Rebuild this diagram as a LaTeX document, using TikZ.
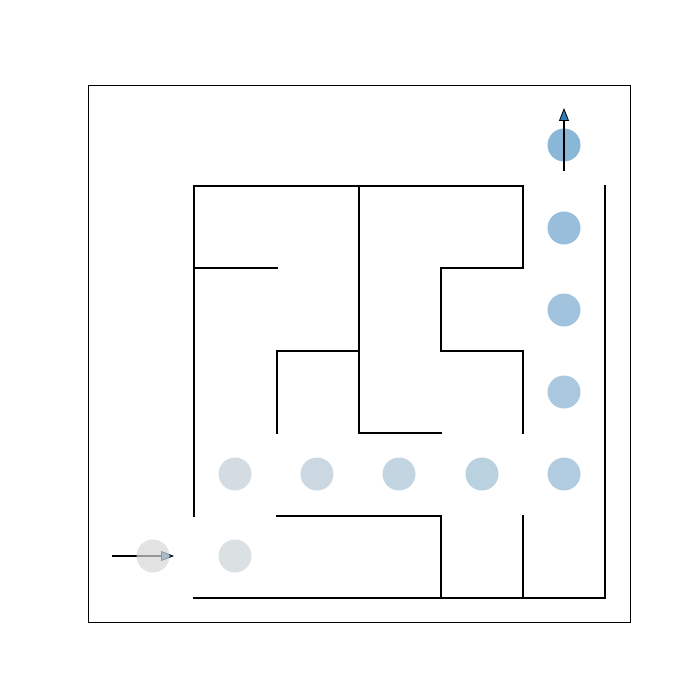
\documentclass[tikz,border=0pt]{standalone}
\usetikzlibrary{arrows.meta}
\definecolor{arrowblue}{HTML}{2F7DB8}
\definecolor{d1}{HTML}{D7D7D7}
\definecolor{d2}{HTML}{DBE0E3}
\definecolor{d3}{HTML}{D4DCE3}
\definecolor{d4}{HTML}{CBD8E1}
\definecolor{d5}{HTML}{C3D5E1}
\definecolor{d6}{HTML}{BAD1E0}
\definecolor{d7}{HTML}{B1CCE0}
\definecolor{d8}{HTML}{AAC8DF}
\definecolor{d9}{HTML}{A1C3DE}
\definecolor{d10}{HTML}{98BEDC}
\definecolor{d11}{HTML}{8AB6D8}
\tikzset{
  wall/.style={line width=1.5pt, line cap=rect},
  frame/.style={line width=0.8pt},
  dot/.style={circle, minimum size=33pt, inner sep=0pt, draw=none},
  movearrow/.style={line width=1.4pt, -{Triangle[length=13pt,width=10pt,fill=arrowblue,line width=0.8pt]}},
}
\begin{document}
\begin{tikzpicture}[x=1pt,y=-1pt]
\useasboundingbox (0,0) rectangle (700,700);
\draw[frame] (88,85) rectangle (630,622);
% walls
\draw[wall] (194,516) -- (194,186) -- (523,186) -- (523,268) -- (441,268) -- (441,351) -- (523,351) -- (523,433);
\draw[wall] (359,186) -- (359,433) -- (441,433);
\draw[wall] (194,268) -- (277,268);
\draw[wall] (277,433) -- (277,351) -- (359,351);
\draw[wall] (605,186) -- (605,598) -- (194,598);
\draw[wall] (277,516) -- (441,516) -- (441,598);
\draw[wall] (523,516) -- (523,598);
% start arrow
\coordinate (s0) at (112,556);
\coordinate (s1) at (174,556);
\draw[movearrow] (s0) -- (s1);
% dots
\node[dot, fill=d1, fill opacity=0.7] (p1) at (153,556) {};
\node[dot, fill=d2] (p2) at (235,556) {};
\node[dot, fill=d3] (p3) at (235,474) {};
\node[dot, fill=d4] (p4) at (317,474) {};
\node[dot, fill=d5] (p5) at (399,474) {};
\node[dot, fill=d6] (p6) at (482,474) {};
\node[dot, fill=d7] (p7) at (564,474) {};
\node[dot, fill=d8] (p8) at (564,392) {};
\node[dot, fill=d9] (p9) at (564,310) {};
\node[dot, fill=d10] (p10) at (564,228) {};
\node[dot, fill=d11] (p11) at (564,145) {};
% end arrow
\coordinate (e0) at (564,171);
\coordinate (e1) at (564,108);
\draw[movearrow] (e0) -- (e1);
\end{tikzpicture}
\end{document}
